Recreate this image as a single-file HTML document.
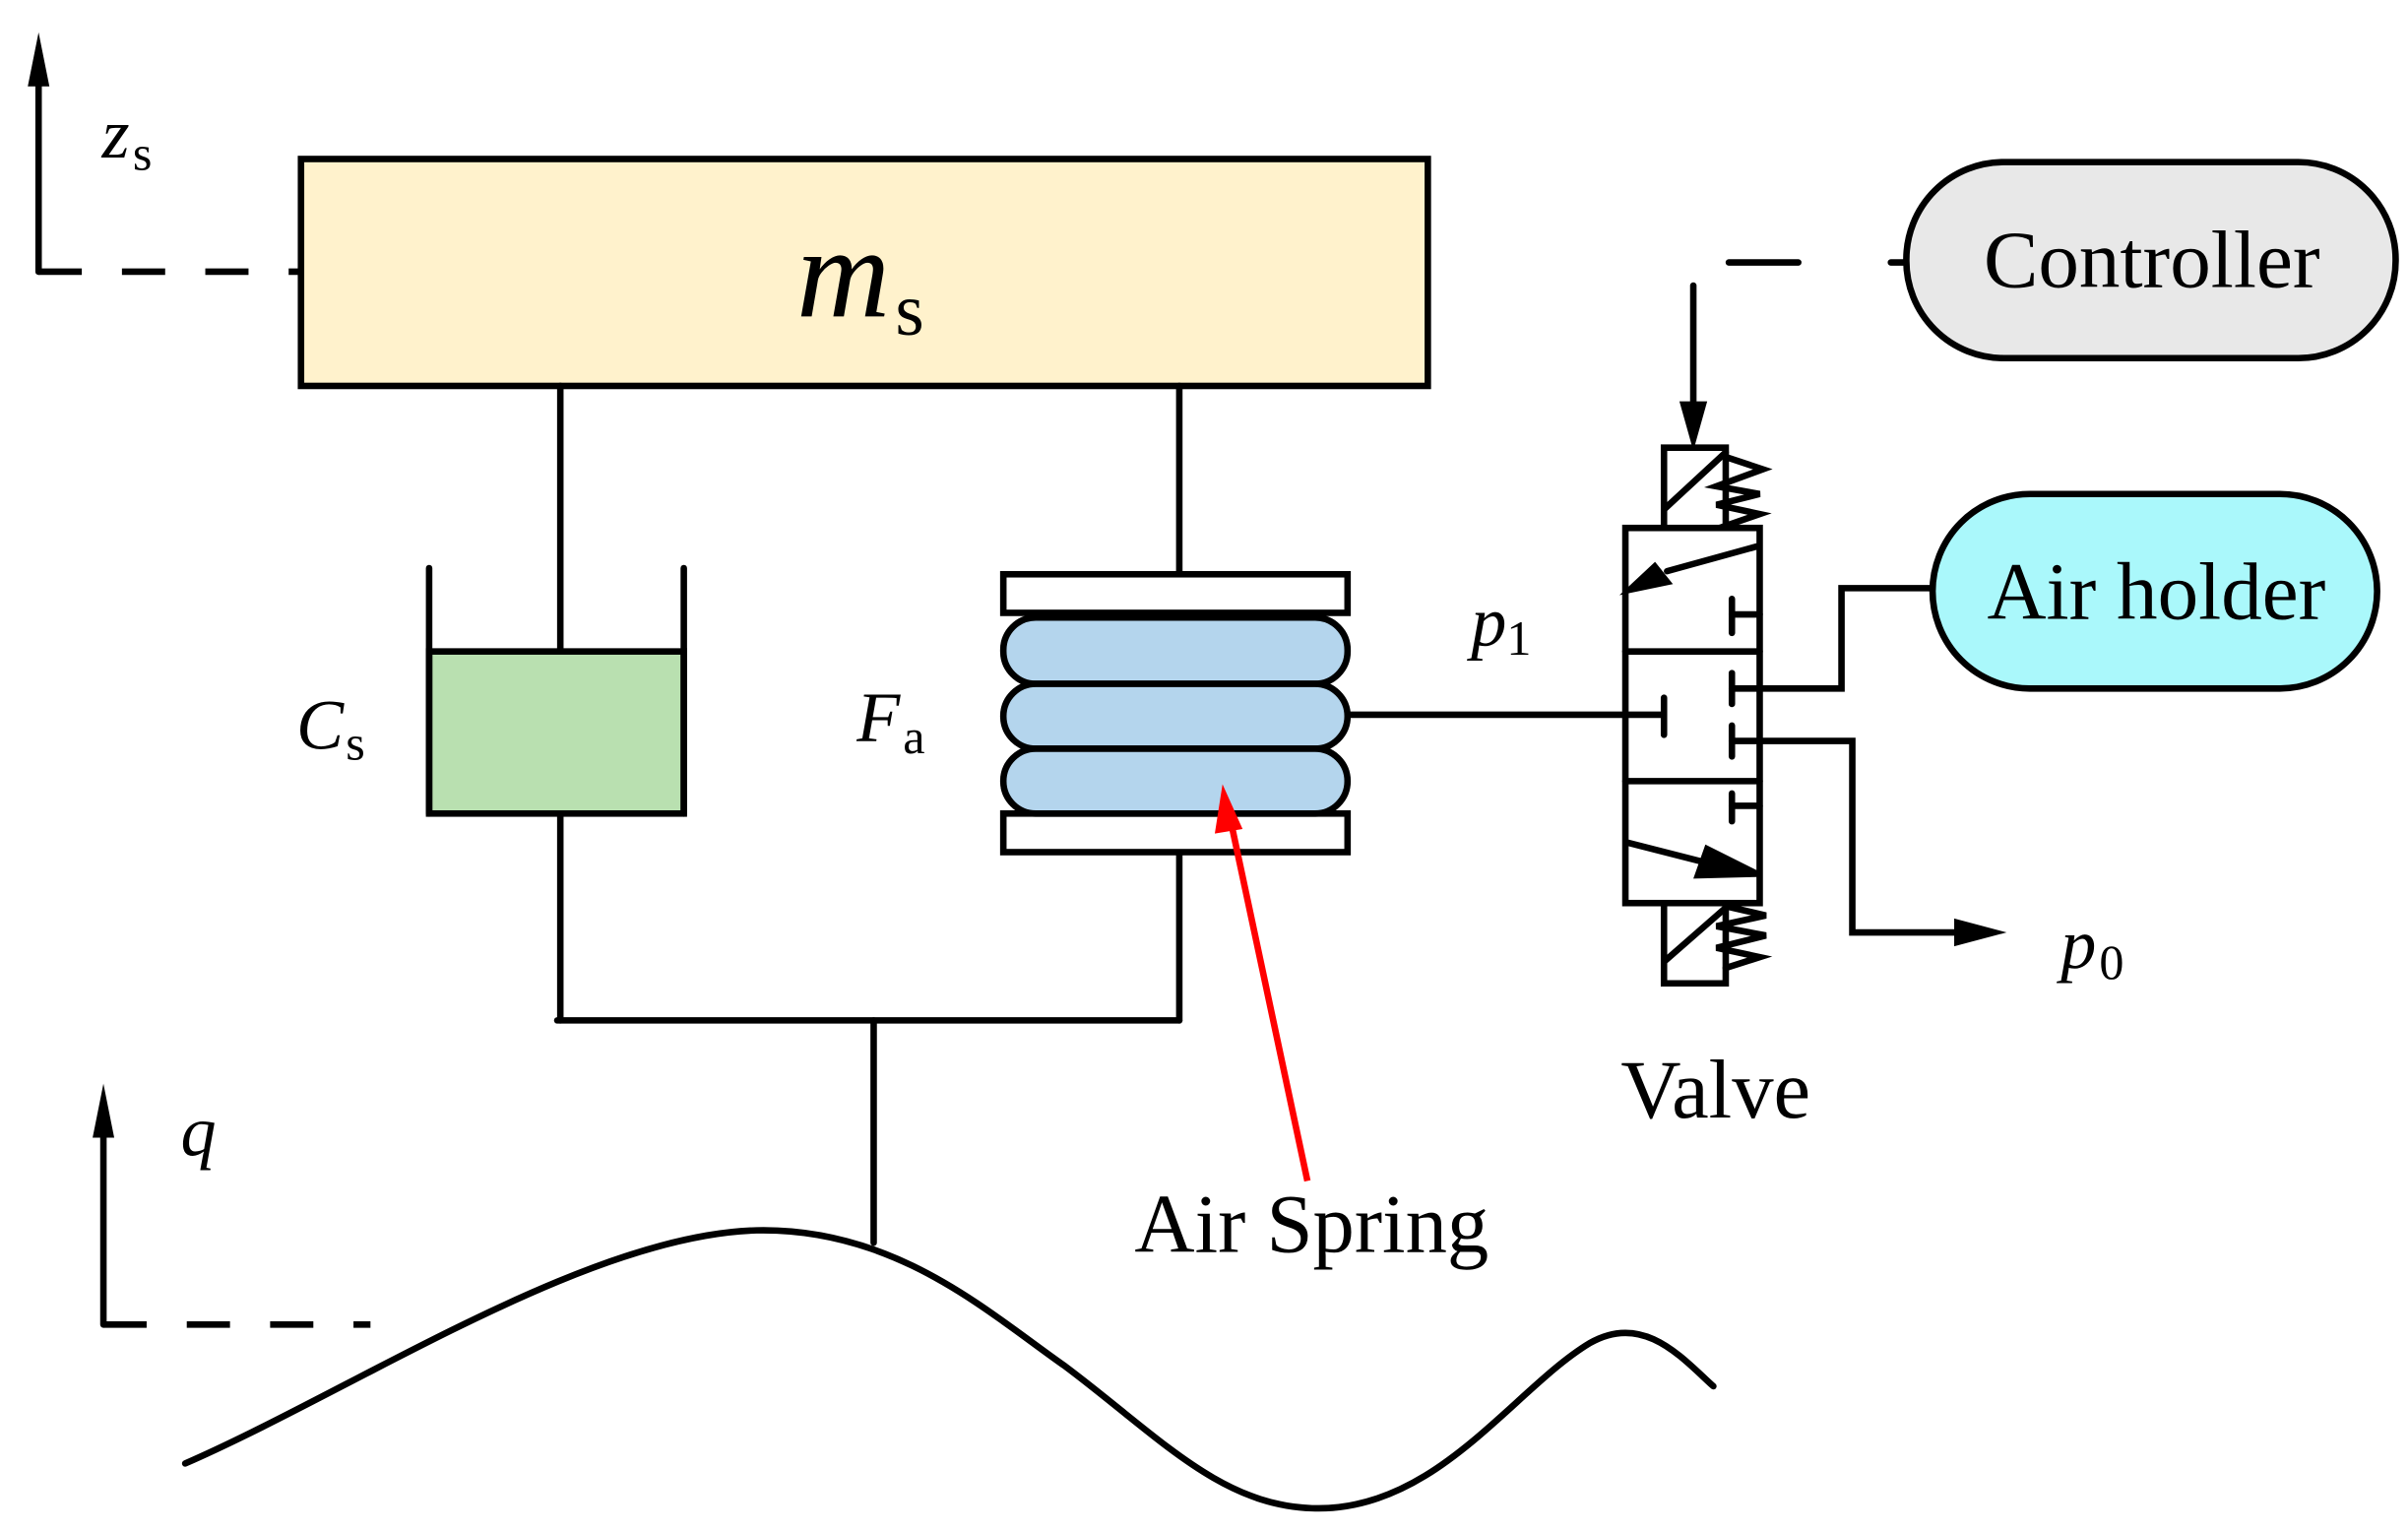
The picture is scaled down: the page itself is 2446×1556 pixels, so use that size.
<!DOCTYPE html>
<html><head><meta charset="utf-8"><style>html,body{margin:0;padding:0;background:#fff}svg{display:block}</style></head>
<body>
<svg width="2446" height="1556" viewBox="0 0 1560 992.4" preserveAspectRatio="none" xmlns="http://www.w3.org/2000/svg" font-family="Liberation Serif, serif">
<g stroke="#000" stroke-width="4.2" fill="none" stroke-linecap="round">
<line x1="25" y1="176" x2="25" y2="55"/>
<polygon points="25,21 18,56 32,56" fill="#000" stroke="none"/>
<line x1="25" y1="176" x2="195" y2="176" stroke-dasharray="28,26" stroke-linecap="butt"/>
<rect x="195" y="103" width="730" height="147" fill="#fff2cc"/>
<line x1="363" y1="250" x2="363" y2="422"/>
<line x1="764" y1="250" x2="764" y2="372"/>
<rect x="278" y="422" width="165" height="105" fill="#b9e0b0"/>
<line x1="278" y1="368" x2="278" y2="527"/>
<line x1="443" y1="368" x2="443" y2="527"/>
<line x1="363" y1="527" x2="363" y2="661"/>
<line x1="764" y1="552" x2="764" y2="661"/>
<line x1="361" y1="661" x2="764" y2="661"/>
<line x1="566" y1="661" x2="566" y2="805"/>
<rect x="650" y="372" width="223" height="25" fill="#fff"/>
<rect x="650" y="527" width="223" height="25" fill="#fff"/>
<rect x="650" y="400" width="223" height="43" rx="21" fill="#b4d5ed"/>
<rect x="650" y="443" width="223" height="42" rx="21" fill="#b4d5ed"/>
<rect x="650" y="485" width="223" height="42" rx="21" fill="#b4d5ed"/>
<rect x="1053" y="342" width="87" height="243" fill="#fff"/>
<line x1="873" y1="463" x2="1078" y2="463"/>
<line x1="1053" y1="422" x2="1140" y2="422"/>
<line x1="1053" y1="506" x2="1140" y2="506"/>
<polyline points="1078,342 1078,290 1118,290 1118,342"/>
<line x1="1078" y1="330" x2="1118" y2="293"/>
<polyline points="1118,296 1142,304 1112,315 1140,320 1112,327 1140,333 1114,342"/>
<polyline points="1078,585 1078,637 1118,637 1118,585"/>
<line x1="1078" y1="623" x2="1118" y2="588"/>
<polyline points="1118,587 1144,593 1112,600 1144,606 1112,614 1140,620 1118,627"/>
<line x1="1138" y1="354" x2="1080" y2="370"/>
<polygon points="1056,382 1072,367 1080,377" fill="#000"/>
<line x1="1055" y1="546" x2="1110" y2="560"/>
<polygon points="1138,566 1106,550 1100,567" fill="#000"/>
<line x1="1122" y1="398" x2="1140" y2="398"/><line x1="1122" y1="388" x2="1122" y2="410"/>
<line x1="1078" y1="452" x2="1078" y2="476"/>
<line x1="1122" y1="446" x2="1140" y2="446"/><line x1="1122" y1="436" x2="1122" y2="456"/>
<line x1="1122" y1="480" x2="1140" y2="480"/><line x1="1122" y1="470" x2="1122" y2="490"/>
<line x1="1122" y1="522" x2="1140" y2="522"/><line x1="1122" y1="514" x2="1122" y2="532"/>
<line x1="1120" y1="170" x2="1165" y2="170"/>
<line x1="1225" y1="170" x2="1235" y2="170"/>
<line x1="1097" y1="185" x2="1097" y2="262"/>
<polygon points="1097,292 1088,260 1106,260" fill="#000" stroke="none"/>
<rect x="1235" y="105" width="317" height="127" rx="63" fill="#e8e8e8"/>
<rect x="1252" y="320" width="288" height="126" rx="63" fill="#aaf8fb"/>
<polyline points="1252,381 1193,381 1193,446 1140,446"/>
<polyline points="1140,480 1200,480 1200,604 1268,604"/>
<polygon points="1300,604 1266,595 1266,613" fill="#000" stroke="none"/>
<line x1="67" y1="858" x2="67" y2="735"/>
<polygon points="67,702 60,737 74,737" fill="#000" stroke="none"/>
<line x1="67" y1="858" x2="240" y2="858" stroke-dasharray="28,26" stroke-linecap="butt"/>
<path d="M120,948 C230,900 380,800 490,797 C580,795 640,850 690,885 C750,930 790,975 850,977 C930,980 980,900 1030,870 C1065,850 1090,880 1110,898"/>
</g>
<line x1="847" y1="765" x2="798" y2="535" stroke="#f00" stroke-width="4.2"/>
<polygon points="792,508 787,540 805,537" fill="#f00"/>
<g fill="#000" font-size="46">
<text x="66" y="102" font-style="italic">z</text><text x="86" y="110" font-size="32">s</text>
<text x="516" y="205" font-size="84" font-style="italic">m</text><text x="580" y="217" font-size="48">s</text>
<text x="192" y="485" font-style="italic">C</text><text x="224" y="492" font-size="32">s</text>
<text x="555" y="480" font-style="italic">F</text><text x="585" y="488" font-size="32">a</text>
<text x="953" y="418" font-style="italic">p</text><text x="976" y="424" font-size="32">1</text>
<text x="1335" y="627" font-style="italic">p</text><text x="1360" y="634" font-size="32">0</text>
<text x="117" y="748" font-style="italic">q</text>
<text x="1050" y="724" font-size="54">Valve</text>
<text x="735" y="811" font-size="54">Air Spring</text>
<text x="1394" y="186" font-size="53" text-anchor="middle">Controller</text>
<text x="1397" y="401" font-size="53" text-anchor="middle">Air holder</text>
</g>
</svg>
</body></html>
